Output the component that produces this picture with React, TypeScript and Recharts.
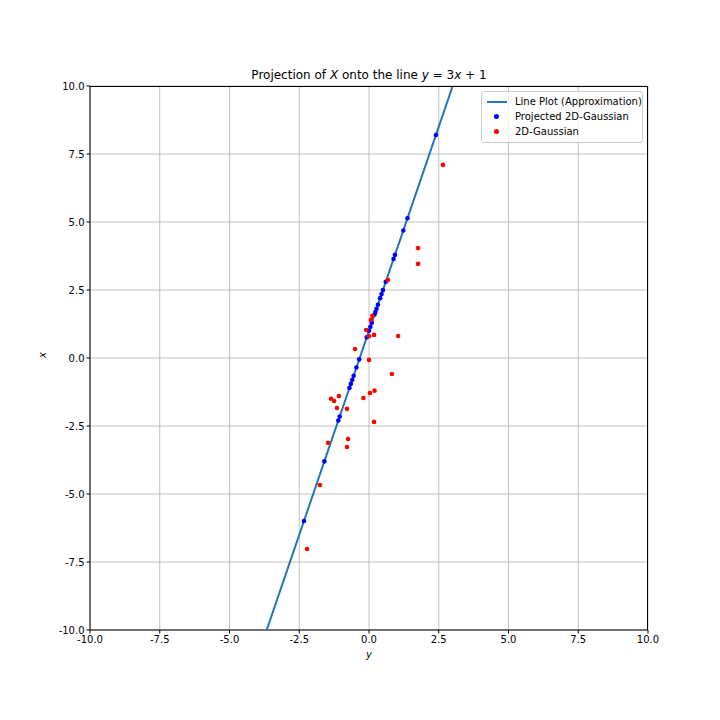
import React from 'react';
import { ScatterChart, Scatter, XAxis, YAxis, CartesianGrid, Label } from 'recharts';

document.body.style.margin = '0';

// points (horizontal = y, vertical = x as labelled)
const gaussX = [2.65, 1.76, 1.76, 0.68, 1.04, 0.18, -0.1, 0.07, 0.12, 0.0, -0.5, 0.0, 0.82, 0.2, 0.03, -0.2, -1.08, -1.36, -1.25, -1.15, -0.79, 0.18, -0.75, -0.79, -1.47, -1.76, -2.22];
const gaussY = [7.1, 4.04, 3.46, 2.87, 0.81, 0.85, 1.03, 1.4, 1.55, 0.8, 0.33, -0.07, -0.59, -1.2, -1.29, -1.47, -1.4, -1.5, -1.58, -1.84, -1.87, -2.35, -2.98, -3.27, -3.12, -4.67, -7.02];
const projX = [2.4, 1.38, 1.23, 0.93, 0.88, 0.6, 0.5, 0.45, 0.4, 0.32, 0.27, 0.23, 0.2, 0.1, 0.05, 0.0, -0.08, -0.35, -0.45, -0.55, -0.6, -0.65, -0.7, -1.05, -1.1, -1.6, -2.33];
const projY = [8.2, 5.14, 4.69, 3.79, 3.64, 2.8, 2.5, 2.35, 2.2, 1.96, 1.81, 1.69, 1.6, 1.3, 1.15, 1.0, 0.76, -0.05, -0.35, -0.65, -0.8, -0.95, -1.1, -2.15, -2.3, -3.8, -5.99];
const lineX = [-3.667, 3.0];
const lineY = [-10, 10];
const ticks = [-10, -7.5, -5, -2.5, 0, 2.5, 5, 7.5, 10];

const toPts = (xs: number[], ys: number[]) => xs.map((x, i) => ({ x, y: ys[i] }));
const gauss = toPts(gaussX, gaussY);
const proj = toPts(projX, projY);
const linePts = toPts(lineX, lineY);

const dot = (color: string) => (p: any) => <circle cx={p.cx} cy={p.cy} r={2.3} fill={color} />;
const fmt = (v: number) => v.toFixed(1);
const font = 'DejaVu Sans';

export default function App() {
    return (
        <div style={{ position: 'relative', width: 720, height: 720, background: '#fff', fontFamily: font }}>
            <div style={{ position: 'absolute', left: 0, width: 738, top: 68, textAlign: 'center', fontSize: 12 }}>
                Projection of <i>X</i> onto the line <i>y</i> = 3<i>x</i> + 1
            </div>
            <ScatterChart width={720} height={720} margin={{ top: 86, right: 72, bottom: 50, left: 30 }}>
                <CartesianGrid stroke="#b0b0b0" strokeWidth={0.8} />
                <XAxis type="number" dataKey="x" domain={[-10, 10]} ticks={ticks} tickFormatter={fmt} allowDataOverflow
                    height={40} stroke="#000" tick={{ fontSize: 10, fill: '#000', fontFamily: font }} tickSize={3.5}>
                    <Label value="y" position="insideBottom" offset={12} style={{ fontSize: 10, fontStyle: 'italic', fill: '#000' }} />
                </XAxis>
                <YAxis type="number" dataKey="y" domain={[-10, 10]} ticks={ticks} tickFormatter={fmt} allowDataOverflow
                    width={60} stroke="#000" tick={{ fontSize: 10, fill: '#000', fontFamily: font }} tickSize={3.5}>
                    <Label value="x" angle={-90} position="insideLeft" offset={12} style={{ fontSize: 10, fontStyle: 'italic', fill: '#000' }} />
                </YAxis>
                <Scatter data={linePts} line={{ stroke: '#1f77b4', strokeWidth: 2 }} shape={() => null} isAnimationActive={false} />
                <Scatter data={proj} shape={dot('blue')} isAnimationActive={false} />
                <Scatter data={gauss} shape={dot('red')} isAnimationActive={false} />
            </ScatterChart>
            <div style={{ position: 'absolute', left: 90, top: 86, width: 558, height: 544, borderTop: '1px solid #000', borderRight: '1px solid #000', boxSizing: 'border-box', pointerEvents: 'none' }} />
            <div style={{ position: 'absolute', left: 481, top: 91, width: 160, height: 46, border: '1px solid #ccc', borderRadius: 3, background: 'rgba(255,255,255,0.8)', fontSize: 10, padding: '2px 0' }}>
                <div style={{ display: 'flex', alignItems: 'center', height: 15 }}>
                    <span style={{ display: 'inline-block', width: 20, height: 2, background: '#1f77b4', margin: '0 8px 0 5px' }} />Line Plot (Approximation)
                </div>
                <div style={{ display: 'flex', alignItems: 'center', height: 15 }}>
                    <span style={{ display: 'inline-block', width: 5, height: 5, borderRadius: 3, background: 'blue', margin: '0 16px 0 12px' }} />Projected 2D-Gaussian
                </div>
                <div style={{ display: 'flex', alignItems: 'center', height: 15 }}>
                    <span style={{ display: 'inline-block', width: 5, height: 5, borderRadius: 3, background: 'red', margin: '0 16px 0 12px' }} />2D-Gaussian
                </div>
            </div>
        </div>
    );
}
